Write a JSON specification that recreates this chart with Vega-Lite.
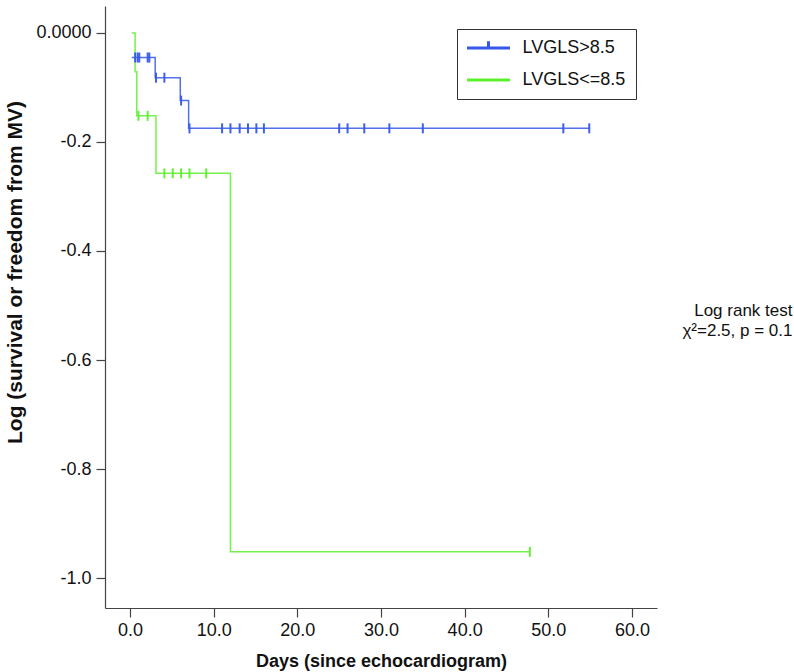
{
  "$schema": "https://vega.github.io/schema/vega-lite/v6.json",
  "width": 552,
  "height": 602,
  "autosize": {"type": "none"},
  "padding": {"left": 105, "top": 6, "right": 137, "bottom": 64},
  "background": "white",
  "config": {
    "font": "Liberation Sans",
    "view": {"stroke": null},
    "axis": {
      "grid": false,
      "domainColor": "#444",
      "tickColor": "#444",
      "domainWidth": 1.2,
      "tickWidth": 1.2,
      "tickSize": 9,
      "labelColor": "#111",
      "titleColor": "#111",
      "labelFont": "Liberation Sans",
      "titleFont": "Liberation Sans",
      "labelFontSize": 18,
      "titleFontSize": 18,
      "titleFontWeight": "bold"
    }
  },
  "datasets": {
    "km": [
      {"group": "LVGLS>8.5", "day": 0.2, "logS": -0.045, "censored": 0},
      {"group": "LVGLS>8.5", "day": 0.6, "logS": -0.045, "censored": 1},
      {"group": "LVGLS>8.5", "day": 0.9, "logS": -0.045, "censored": 1},
      {"group": "LVGLS>8.5", "day": 1.1, "logS": -0.045, "censored": 1},
      {"group": "LVGLS>8.5", "day": 2.1, "logS": -0.045, "censored": 1},
      {"group": "LVGLS>8.5", "day": 2.3, "logS": -0.045, "censored": 1},
      {"group": "LVGLS>8.5", "day": 3.0, "logS": -0.082, "censored": 0},
      {"group": "LVGLS>8.5", "day": 3.1, "logS": -0.082, "censored": 1},
      {"group": "LVGLS>8.5", "day": 4.1, "logS": -0.082, "censored": 1},
      {"group": "LVGLS>8.5", "day": 6.0, "logS": -0.124, "censored": 0},
      {"group": "LVGLS>8.5", "day": 6.1, "logS": -0.124, "censored": 1},
      {"group": "LVGLS>8.5", "day": 7.0, "logS": -0.175, "censored": 0},
      {"group": "LVGLS>8.5", "day": 7.1, "logS": -0.175, "censored": 1},
      {"group": "LVGLS>8.5", "day": 11.0, "logS": -0.175, "censored": 1},
      {"group": "LVGLS>8.5", "day": 12.0, "logS": -0.175, "censored": 1},
      {"group": "LVGLS>8.5", "day": 13.1, "logS": -0.175, "censored": 1},
      {"group": "LVGLS>8.5", "day": 14.1, "logS": -0.175, "censored": 1},
      {"group": "LVGLS>8.5", "day": 15.1, "logS": -0.175, "censored": 1},
      {"group": "LVGLS>8.5", "day": 16.0, "logS": -0.175, "censored": 1},
      {"group": "LVGLS>8.5", "day": 25.0, "logS": -0.175, "censored": 1},
      {"group": "LVGLS>8.5", "day": 26.0, "logS": -0.175, "censored": 1},
      {"group": "LVGLS>8.5", "day": 28.0, "logS": -0.175, "censored": 1},
      {"group": "LVGLS>8.5", "day": 31.0, "logS": -0.175, "censored": 1},
      {"group": "LVGLS>8.5", "day": 35.0, "logS": -0.175, "censored": 1},
      {"group": "LVGLS>8.5", "day": 51.8, "logS": -0.175, "censored": 1},
      {"group": "LVGLS>8.5", "day": 54.9, "logS": -0.175, "censored": 1},
      {"group": "LVGLS<=8.5", "day": 0.2, "logS": 0.0, "censored": 0},
      {"group": "LVGLS<=8.5", "day": 0.6, "logS": -0.071, "censored": 0},
      {"group": "LVGLS<=8.5", "day": 0.8, "logS": -0.152, "censored": 0},
      {"group": "LVGLS<=8.5", "day": 1.0, "logS": -0.152, "censored": 1},
      {"group": "LVGLS<=8.5", "day": 2.1, "logS": -0.152, "censored": 1},
      {"group": "LVGLS<=8.5", "day": 3.1, "logS": -0.2575, "censored": 0},
      {"group": "LVGLS<=8.5", "day": 4.1, "logS": -0.2575, "censored": 1},
      {"group": "LVGLS<=8.5", "day": 5.1, "logS": -0.2575, "censored": 1},
      {"group": "LVGLS<=8.5", "day": 6.1, "logS": -0.2575, "censored": 1},
      {"group": "LVGLS<=8.5", "day": 7.1, "logS": -0.2575, "censored": 1},
      {"group": "LVGLS<=8.5", "day": 9.1, "logS": -0.2575, "censored": 1},
      {"group": "LVGLS<=8.5", "day": 12.0, "logS": -0.952, "censored": 0},
      {"group": "LVGLS<=8.5", "day": 47.8, "logS": -0.952, "censored": 1}
    ]
  },
  "layer": [
    {
      "data": {"name": "km"},
      "mark": {"type": "line", "interpolate": "step-after", "strokeWidth": 1.5, "strokeOpacity": 0.85},
      "encoding": {
        "x": {
          "field": "day", "type": "quantitative",
          "scale": {"domain": [-3, 63], "nice": false, "zero": false},
          "axis": {"values": [0, 10, 20, 30, 40, 50, 60], "format": ".1f", "title": "Days (since echocardiogram)", "labelPadding": 4, "titlePadding": 13}
        },
        "y": {
          "field": "logS", "type": "quantitative",
          "scale": {"domain": [-1.055, 0.0495], "nice": false, "zero": false},
          "axis": {
            "values": [0, -0.2, -0.4, -0.6, -0.8, -1.0],
            "labelExpr": "datum.value == 0 ? '0.0000' : '-' + format(-datum.value, '.1f')",
            "title": "Log (survival or freedom from MV)",
            "titleFontSize": 21,
            "titleY": 266,
            "labelPadding": 5,
            "titlePadding": 10
          }
        },
        "color": {
          "field": "group", "type": "nominal",
          "scale": {"domain": ["LVGLS>8.5", "LVGLS<=8.5"], "range": ["#3458e8", "#5cf02c"]},
          "legend": {
            "title": null,
            "orient": "none",
            "legendX": 352,
            "legendY": 23,
            "symbolType": "stroke",
            "symbolSize": 205,
            "symbolStrokeWidth": 3,
            "symbolOffset": 12.5,
            "labelFontSize": 18,
            "labelFont": "Liberation Sans",
            "labelColor": "#111",
            "labelOffset": 25,
            "padding": 10,
            "rowPadding": 14,
            "strokeColor": "#333",
            "fillColor": "white",
            "encode": {
              "symbols": {
                "update": {
                  "shape": {"signal": "datum.value === 'LVGLS>8.5' ? 'M-3,0H3M0,0V-0.96' : 'M-3,0H3'"}
                }
              }
            }
          }
        },
        "order": {"field": "day", "type": "quantitative"}
      }
    },
    {
      "data": {"name": "km"},
      "transform": [{"filter": "datum.censored == 1"}],
      "mark": {"type": "tick", "orient": "vertical", "size": 10, "thickness": 2, "opacity": 0.95},
      "encoding": {
        "x": {"field": "day", "type": "quantitative"},
        "y": {"field": "logS", "type": "quantitative"},
        "color": {"field": "group", "type": "nominal", "legend": null}
      }
    },
    {
      "data": {"values": [{}]},
      "mark": {"type": "text", "align": "right", "baseline": "middle", "fontSize": 17, "lineHeight": 20, "color": "#111", "font": "Liberation Sans"},
      "encoding": {
        "x": {"datum": 79.2, "type": "quantitative"},
        "y": {"datum": -0.51, "type": "quantitative"},
        "text": {"value": ["Log rank test", "χ²=2.5, p = 0.1"]}
      }
    }
  ]
}
